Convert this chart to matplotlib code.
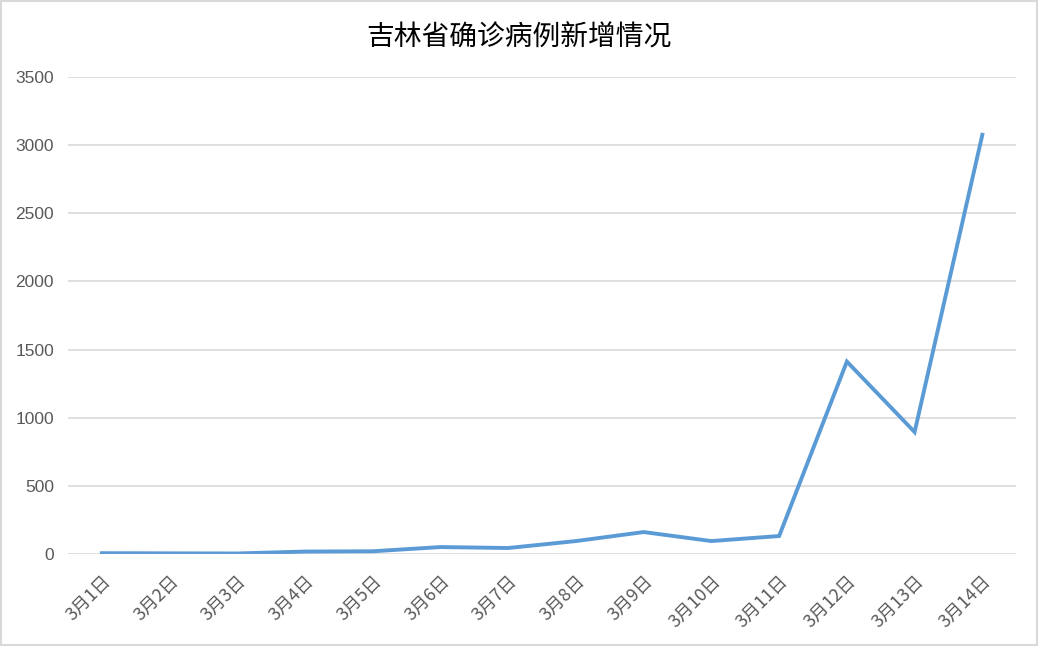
import matplotlib.pyplot as plt
from matplotlib.patches import Rectangle

plt.rcParams['font.family'] = ['Noto Sans CJK SC', 'DejaVu Sans']

# 数据
dates = ['3月1日', '3月2日', '3月3日', '3月4日', '3月5日', '3月6日', '3月7日',
         '3月8日', '3月9日', '3月10日', '3月11日', '3月12日', '3月13日', '3月14日']
new_cases = [6, 5, 4, 18, 20, 51, 44, 95, 161, 95, 132, 1412, 895, 3076]
y_ticks = [0, 500, 1000, 1500, 2000, 2500, 3000, 3500]

fig = plt.figure(figsize=(10.38, 6.46), dpi=100)
ax = fig.add_axes([0.0655, 0.1424, 0.9135, 0.7384])

x = list(range(len(dates)))
ax.plot(x, new_cases, color='#5b9bd5', linewidth=2.8, solid_joinstyle='miter', zorder=3)

ax.set_xlim(-0.5, len(dates) - 0.5)
ax.set_ylim(0, 3500)
ax.set_yticks(y_ticks)
ax.set_yticklabels([str(v) for v in y_ticks], color='#595959', fontsize=12.5,
                   family=['Liberation Sans', 'DejaVu Sans'])
ax.set_xticks(x)
ax.set_xticklabels(dates, rotation=45, ha='right', rotation_mode='anchor',
                   color='#595959', fontsize=12.8)
ax.tick_params(axis='y', length=0, pad=10)
ax.tick_params(axis='x', length=0, pad=13)
ax.grid(axis='y', color='#d9d9d9', linewidth=1.2, zorder=0)
for s in ax.spines.values():
    s.set_visible(False)

fig.text(0.5, 0.942, '吉林省确诊病例新增情况', ha='center', va='center',
         fontsize=20, fontweight='medium', color='black')

# 外框
fig.patches.append(Rectangle((0.001, 0.001), 0.998, 0.998, transform=fig.transFigure,
                             fill=False, edgecolor='#d9d9d9', linewidth=1.5))

fig.savefig('out.png', dpi=100)
